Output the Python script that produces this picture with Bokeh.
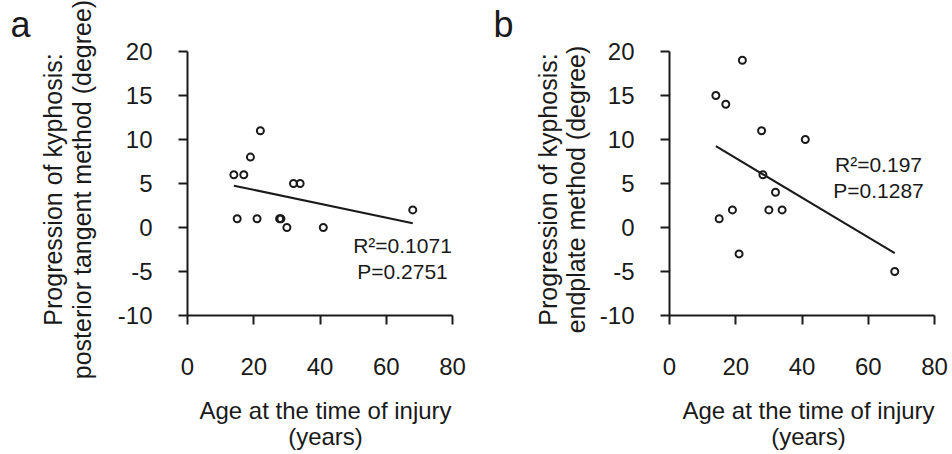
import numpy as np
from bokeh.plotting import figure
from bokeh.layouts import row
from bokeh.models import Range1d, FixedTicker, Label, LinearAxis
from bokeh.embed import file_html
from bokeh.resources import INLINE

# ---- data ----
age_a = [14, 17, 19, 22, 32, 34, 15, 21, 27.8, 28.2, 30, 41, 68]
kyph_a = [6, 6, 8, 11, 5, 5, 1, 1, 1, 1, 0, 0, 2]
age_b = [22, 14, 17, 27.8, 41, 28.2, 32, 30, 34, 19, 15, 21, 68]
kyph_b = [19, 15, 14, 11, 10, 6, 4, 2, 2, 2, 1, -3, -5]
x_ticks = [0, 20, 40, 60, 80]
y_ticks = [-10, -5, 0, 5, 10, 15, 20]
stats_a = ["R\u00b2=0.1071", "P=0.2751"]
stats_b = ["R\u00b2=0.197", "P=0.1287"]
ytitle_a = ["Progression of kyphosis:", "posterior tangent method (degree)"]
ytitle_b = ["Progression of kyphosis:", "endplate method (degree)"]
xtitle = ["Age at the time of injury", "(years)"]

FONT = "Liberation Sans"
INK = "#1a1a1a"

# ---- layout constants (pixels) ----
W, H = 474, 450          # each figure canvas
ORIGIN = 1               # page offset of canvases
XS = 265 / 80            # px per x unit
YS = 264 / 30            # px per y unit
TOP_20 = 52              # page y of y=20


class Panel:
    def __init__(self, canvas_left, axis_page_x):
        self.cl = canvas_left
        x0 = -(axis_page_x - canvas_left) / XS
        y1 = 20 + (TOP_20 - ORIGIN) / YS
        p = figure(width=W, height=H,
                   x_range=Range1d(x0, x0 + W / XS),
                   y_range=Range1d(y1 - H / YS, y1),
                   x_axis_location=None, y_axis_location=None,
                   output_backend="svg", toolbar_location=None,
                   min_border=0)
        p.outline_line_color = None
        p.grid.visible = False
        p.background_fill_color = "white"
        p.border_fill_color = "white"
        xa = LinearAxis(fixed_location=-10, bounds=(0, 80),
                        ticker=FixedTicker(ticks=x_ticks))
        ya = LinearAxis(fixed_location=0, bounds=(-10, 20),
                        ticker=FixedTicker(ticks=y_ticks))
        for ax in (xa, ya):
            ax.axis_line_color = INK
            ax.axis_line_width = 2
            ax.major_tick_line_color = INK
            ax.major_tick_line_width = 2
            ax.major_tick_out = 9
            ax.major_tick_in = 0
            ax.minor_tick_line_color = None
            ax.major_label_text_font = FONT
            ax.major_label_text_font_size = "24px"
            ax.major_label_text_color = INK
        xa.major_label_overrides = {t: str(t) for t in x_ticks}
        ya.major_label_overrides = {t: str(t) for t in y_ticks}
        ya.major_label_standoff = 26
        xa.major_label_standoff = 33
        p.add_layout(xa, "below")
        p.add_layout(ya, "left")
        self.p = p

    def lab(self, text, page_x, page_y, size, angle=0, align="center", baseline="middle"):
        self.p.add_layout(Label(
            x=page_x - self.cl, y=ORIGIN + H - page_y,
            x_units="screen", y_units="screen", text=text,
            text_font=FONT, text_font_size=size, text_color=INK,
            text_align=align, text_baseline=baseline,
            angle=angle, angle_units="deg"))

    def data(self, ages, vals):
        p = self.p
        slope, intercept = np.polyfit(ages, vals, 1)
        xs = [min(ages), max(ages)]
        p.line(xs, [slope * x + intercept for x in xs], line_color=INK, line_width=2)
        p.scatter(ages, vals, marker="circle", size=7, fill_color=None,
                  line_color=INK, line_width=2)


# panel a
A = Panel(ORIGIN, 188)
A.data(age_a, kyph_a)
A.lab("a", 11, 25, "36px", align="left", baseline="alphabetic")
A.lab(ytitle_a[0], 53, 190, "25px", angle=90)
A.lab(ytitle_a[1], 82, 190, "25px", angle=90)
A.lab(xtitle[0], 326, 411, "24px")
A.lab(xtitle[1], 326, 437, "24px")
A.lab(stats_a[0], 403, 246, "21px")
A.lab(stats_a[1], 403, 272, "21px")

# panel b
B = Panel(ORIGIN + W, 670)
B.data(age_b, kyph_b)
B.lab("b", 494, 25, "36px", align="left", baseline="alphabetic")
B.lab(ytitle_b[0], 548, 190, "25px", angle=90)
B.lab(ytitle_b[1], 576, 190, "25px", angle=90)
B.lab(xtitle[0], 809, 411, "24px")
B.lab(xtitle[1], 809, 437, "24px")
B.lab(stats_b[0], 879, 165, "21px")
B.lab(stats_b[1], 879, 191, "21px")

layout = row(A.p, B.p)
open("out.html", "w").write(file_html(layout, INLINE))
